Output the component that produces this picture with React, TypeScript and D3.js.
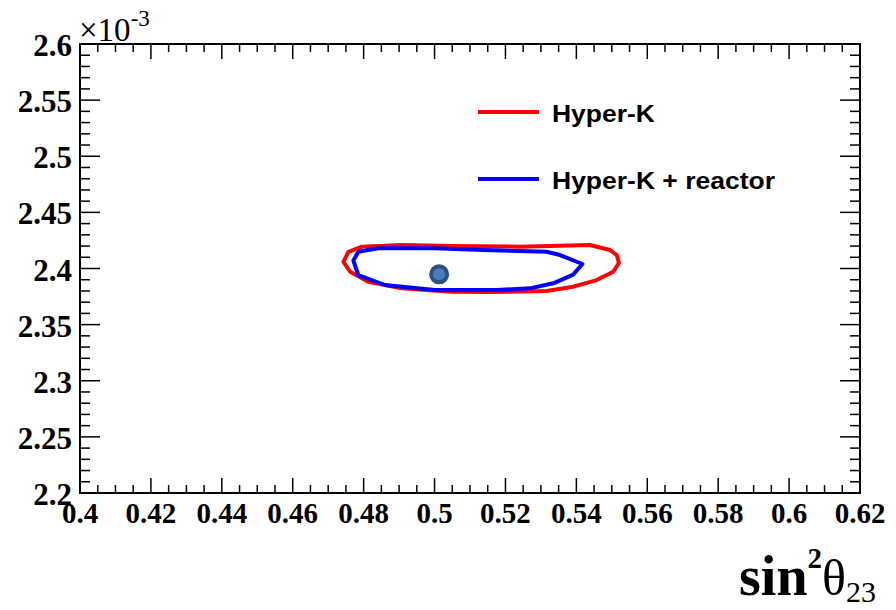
import React from "react";
import * as d3 from "d3";

// Allowed region contours in (sin^2 theta23, dm^2_32 [1e-3 eV^2])
const hyperKContour: [number, number][] = [
  [0.4743, 2.406], [0.4757, 2.4149], [0.4795, 2.4194], [0.4907, 2.4209],
  [0.5052, 2.42], [0.5241, 2.4194], [0.5438, 2.4209], [0.5495, 2.4165],
  [0.5514, 2.412], [0.552, 2.4049], [0.5504, 2.3971], [0.5457, 2.3897],
  [0.5391, 2.3838], [0.5316, 2.3799], [0.5147, 2.379], [0.5048, 2.3793],
  [0.4907, 2.3823], [0.4813, 2.3882], [0.4762, 2.3971],
];

const hyperKReactorContour: [number, number][] = [
  [0.4771, 2.4071], [0.4785, 2.4149], [0.4841, 2.418], [0.5001, 2.418],
  [0.5138, 2.4165], [0.5316, 2.4149], [0.5354, 2.412], [0.5417, 2.404],
  [0.5391, 2.3946], [0.5335, 2.3868], [0.5269, 2.3823], [0.5175, 2.3808],
  [0.5053, 2.3808], [0.5001, 2.3808], [0.486, 2.3853], [0.4785, 2.3942],
];

const truePoint: [number, number] = [0.5013, 2.3948];

const xDomain: [number, number] = [0.4, 0.62];
const yDomain: [number, number] = [2.2, 2.6];

const legendLabels = ["Hyper-K", "Hyper-K + reactor"];
const seriesColors = ["#ff0000", "#0000ff"];

const W = 896;
const H = 610;
const frame = { left: 80, right: 860, top: 44, bottom: 493 };

const fmt = (v: number) => String(+v.toFixed(3));

export default function App() {
  const x = d3.scaleLinear().domain(xDomain).range([frame.left, frame.right]);
  const y = d3.scaleLinear().domain(yDomain).range([frame.bottom, frame.top]);

  const xMajor = x.ticks(11);
  const xMinor = x.ticks(44);
  const yMajor = y.ticks(8);
  const yMinor = y.ticks(40);

  const line = d3
    .line<[number, number]>()
    .x((d) => x(d[0]))
    .y((d) => y(d[1]))
    .curve(d3.curveLinearClosed);

  const serif = "'Liberation Serif', 'Times New Roman', serif";
  const sans = "'Liberation Sans', Arial, Helvetica, sans-serif";

  const xMajLen = 15, xMinLen = 8, yMajLen = 20, yMinLen = 10;

  return (
    <svg
      width={W}
      height={H}
      viewBox={`0 0 ${W} ${H}`}
      style={{ position: "absolute", left: 0, top: 0, background: "#fff" }}
    >
      <rect x={0} y={0} width={W} height={H} fill="#fff" />

      {/* contours */}
      <path d={line(hyperKContour) || ""} fill="none" stroke={seriesColors[0]} strokeWidth={4} strokeLinejoin="round" />
      <path d={line(hyperKReactorContour) || ""} fill="none" stroke={seriesColors[1]} strokeWidth={4} strokeLinejoin="round" />

      {/* best-fit point */}
      <circle cx={x(truePoint[0])} cy={y(truePoint[1])} r={8} fill="#4b7cb8" stroke="#2c5283" strokeWidth={4} />

      {/* ticks */}
      <g stroke="#000" strokeWidth={1.5}>
        {xMinor.map((v, i) => {
          const major = xMajor.some((m) => Math.abs(m - v) < 1e-9);
          const len = major ? xMajLen : xMinLen;
          return (
            <g key={"xt" + i}>
              <line x1={x(v)} x2={x(v)} y1={frame.bottom} y2={frame.bottom - len} />
              <line x1={x(v)} x2={x(v)} y1={frame.top} y2={frame.top + len} />
            </g>
          );
        })}
        {yMinor.map((v, i) => {
          const major = yMajor.some((m) => Math.abs(m - v) < 1e-9);
          const len = major ? yMajLen : yMinLen;
          return (
            <g key={"yt" + i}>
              <line x1={frame.left} x2={frame.left + len} y1={y(v)} y2={y(v)} />
              <line x1={frame.right} x2={frame.right - len} y1={y(v)} y2={y(v)} />
            </g>
          );
        })}
      </g>

      {/* frame */}
      <rect
        x={frame.left}
        y={frame.top}
        width={frame.right - frame.left}
        height={frame.bottom - frame.top}
        fill="none"
        stroke="#000"
        strokeWidth={2}
      />

      {/* x tick labels */}
      <g fontFamily={serif} fontWeight="bold" fontSize={29} textAnchor="middle" fill="#000">
        {xMajor.map((v, i) => (
          <text key={"xl" + i} x={x(v)} y={frame.bottom + 30}>
            {fmt(v)}
          </text>
        ))}
      </g>

      {/* y tick labels */}
      <g fontFamily={serif} fontWeight="bold" fontSize={31} textAnchor="end" fill="#000">
        {yMajor.map((v, i) => (
          <text key={"yl" + i} x={frame.left - 8} y={y(v) + 12}>
            {fmt(v)}
          </text>
        ))}
      </g>

      {/* exponent */}
      <text x={frame.left - 1} y={41} fontFamily={serif} fontSize={33} fill="#000">
        ×10
        <tspan fontSize={23} dy={-15}>-3</tspan>
      </text>

      {/* x axis title */}
      <text x={876} y={595} textAnchor="end" fontFamily={serif} fill="#000">
        <tspan fontSize={56} fontWeight="bold">sin</tspan>
        <tspan fontSize={29} fontWeight="bold" dy={-27}>2</tspan>
        <tspan fontSize={50} dy={27}>θ</tspan>
        <tspan fontSize={30} dy={7}>23</tspan>
      </text>

      {/* legend */}
      {legendLabels.map((label, i) => {
        const ly = 112 + i * 67;
        return (
          <g key={"lg" + i}>
            <line x1={478} x2={539} y1={ly} y2={ly} stroke={seriesColors[i]} strokeWidth={4} />
            <text
              x={552}
              y={ly + 10}
              fontFamily={sans}
              fontWeight="bold"
              fontSize={23}
              fill="#000"
              textLength={i === 0 ? 103 : 223}
              lengthAdjust="spacingAndGlyphs"
            >
              {label}
            </text>
          </g>
        );
      })}
    </svg>
  );
}
